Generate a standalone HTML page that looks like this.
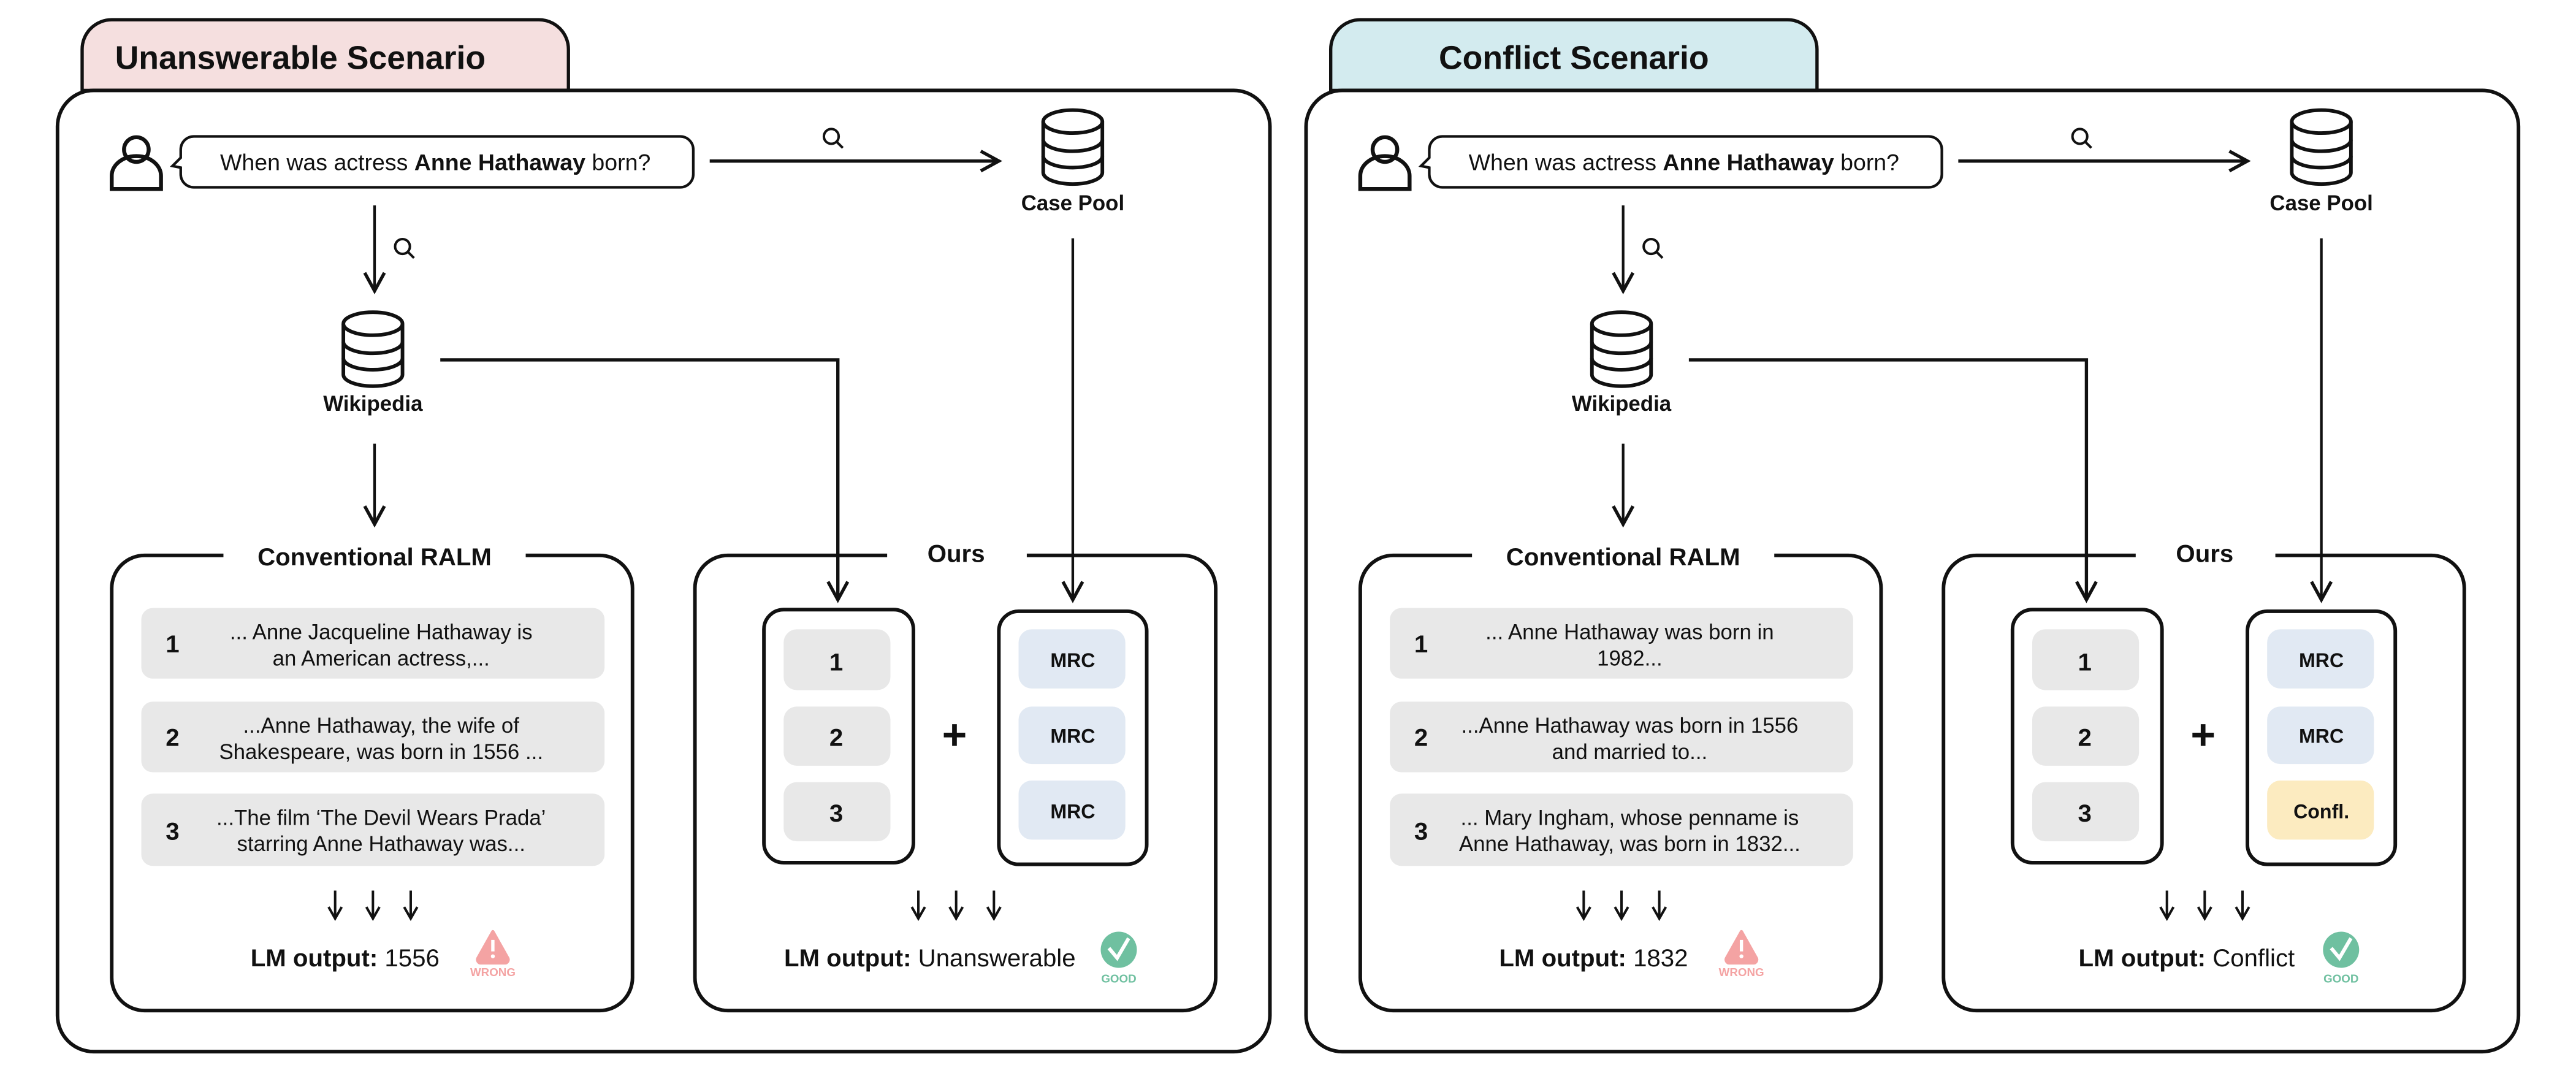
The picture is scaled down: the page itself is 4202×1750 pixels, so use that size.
<!DOCTYPE html>
<html><head><meta charset="utf-8"><style>
html,body{margin:0;padding:0;background:#fff;}
svg{display:block;}
text{font-family:"Liberation Sans",sans-serif;fill:#111;}
.b{font-weight:bold;}
</style></head><body>
<svg width="4202" height="1750" viewBox="0 0 1568 653" xmlns="http://www.w3.org/2000/svg">
<defs>
<g id="db" fill="none" stroke="#111" stroke-width="2.2">
  <ellipse cx="0" cy="-15" rx="18" ry="7"/>
  <path d="M-18,-15 V16 A18,7 0 0 0 18,16 V-15"/>
  <path d="M-18,-4 A18,7 0 0 0 18,-4"/>
  <path d="M-18,6 A18,7 0 0 0 18,6"/>
</g>
<g id="mag" fill="none" stroke="#111" stroke-width="1.5">
  <circle cx="0" cy="0" r="4.5"/><line x1="3.2" y1="3.2" x2="7" y2="7"/>
</g>
<g id="arrowhead" fill="none" stroke="#111" stroke-width="2">
  <path d="M-6,-11 L0,0 L6,-11"/>
</g>
<g id="sarrow" fill="none" stroke="#111" stroke-width="1.5">
  <path d="M0,-9 V8 M-4,1 L0,8 L4,1"/>
</g>
<g id="good">
  <circle cx="0" cy="0" r="11" fill="#6fc0a0"/>
  <path d="M-6,-1 L-1,5 L6,-7" fill="none" stroke="#fff" stroke-width="2.2"/>
  <text x="0" y="20" font-size="7" text-anchor="middle" class="b" style="fill:#6fc0a0">GOOD</text>
</g>
<g id="panelbase">
  <g fill="none" stroke="#111" stroke-width="2.4">
    <circle cx="83" cy="91" r="7.5"/>
    <path d="M68,115 V107 A15,12 0 0 1 98,107 V115 Z"/>
  </g>
  <path d="M118,83 H414 A8,8 0 0 1 422,91 V106 A8,8 0 0 1 414,114 H118 A8,8 0 0 1 110,106 V102 L105,101 L110,96 V91 A8,8 0 0 1 118,83 Z" fill="#fff" stroke="#111" stroke-width="1.6"/>
  <text x="265" y="103.5" font-size="14" text-anchor="middle">When was actress <tspan class="b">Anne Hathaway</tspan> born?</text>
  <line x1="432" y1="98" x2="607" y2="98" stroke="#111" stroke-width="2"/>
  <g transform="translate(608,98) rotate(-90)"><use href="#arrowhead"/></g>
  <use href="#mag" transform="translate(506,83)"/>
  <use href="#db" transform="translate(653,89)"/>
  <text x="653" y="128" font-size="13" text-anchor="middle" class="b">Case Pool</text>
  <line x1="228" y1="125" x2="228" y2="176" stroke="#111" stroke-width="1.6"/>
  <g transform="translate(228,177)"><use href="#arrowhead"/></g>
  <use href="#mag" transform="translate(245,150)"/>
  <use href="#db" transform="translate(227,212)"/>
  <text x="227" y="250" font-size="13" text-anchor="middle" class="b">Wikipedia</text>
  <line x1="228" y1="270" x2="228" y2="318" stroke="#111" stroke-width="1.6"/>
  <g transform="translate(228,319)"><use href="#arrowhead"/></g>
  <polyline points="268,219 510,219 510,364" fill="none" stroke="#111" stroke-width="2"/>
  <g transform="translate(510,365)"><use href="#arrowhead"/></g>
  <line x1="653" y1="145" x2="653" y2="364" stroke="#111" stroke-width="1.6"/>
  <g transform="translate(653,365)"><use href="#arrowhead"/></g>
  <path d="M136,338 H88 A20,20 0 0 0 68,358 V595 A20,20 0 0 0 88,615 H365 A20,20 0 0 0 385,595 V358 A20,20 0 0 0 365,338 H320" fill="none" stroke="#111" stroke-width="2.2"/>
  <text x="228" y="344" font-size="15" text-anchor="middle" class="b">Conventional RALM</text>
  <rect x="86" y="370" width="282" height="43" rx="7" fill="#e8e8e8"/>
  <rect x="86" y="427" width="282" height="43" rx="7" fill="#e8e8e8"/>
  <rect x="86" y="483" width="282" height="44" rx="7" fill="#e8e8e8"/>
  <text x="105" y="397" font-size="15" text-anchor="middle" class="b">1</text>
  <text x="105" y="454" font-size="15" text-anchor="middle" class="b">2</text>
  <text x="105" y="511" font-size="15" text-anchor="middle" class="b">3</text>
  <use href="#sarrow" transform="translate(204,551)"/>
  <use href="#sarrow" transform="translate(227,551)"/>
  <use href="#sarrow" transform="translate(250,551)"/>
  <path d="M300,567 L309,583 A2,2 0 0 1 307,586 H293 A2,2 0 0 1 291,583 Z" fill="#f4a3a3" stroke="#f4a3a3" stroke-width="2" stroke-linejoin="round"/>
  <rect x="299" y="572" width="2" height="7" fill="#fff"/><circle cx="300" cy="582" r="1.2" fill="#fff"/>
  <text x="300" y="594" font-size="7" text-anchor="middle" class="b" style="fill:#f4a3a3">WRONG</text>
  <path d="M540,338 H443 A20,20 0 0 0 423,358 V595 A20,20 0 0 0 443,615 H720 A20,20 0 0 0 740,595 V358 A20,20 0 0 0 720,338 H625" fill="none" stroke="#111" stroke-width="2.2"/>
  <text x="582" y="342" font-size="15" text-anchor="middle" class="b">Ours</text>
  <rect x="465" y="371" width="91" height="154" rx="12" fill="none" stroke="#111" stroke-width="2.2"/>
  <rect x="477" y="383" width="65" height="37" rx="8" fill="#e8e8e8"/>
  <rect x="477" y="430" width="65" height="36" rx="8" fill="#e8e8e8"/>
  <rect x="477" y="476" width="65" height="36" rx="8" fill="#e8e8e8"/>
  <text x="509" y="408" font-size="15" text-anchor="middle" class="b">1</text>
  <text x="509" y="454" font-size="15" text-anchor="middle" class="b">2</text>
  <text x="509" y="500" font-size="15" text-anchor="middle" class="b">3</text>
  <text x="581" y="456" font-size="26" text-anchor="middle" class="b">+</text>
  <rect x="608" y="372" width="90" height="154" rx="12" fill="none" stroke="#111" stroke-width="2.2"/>
  <use href="#sarrow" transform="translate(559,551)"/>
  <use href="#sarrow" transform="translate(582,551)"/>
  <use href="#sarrow" transform="translate(605,551)"/>
</g>
</defs>

<!-- LEFT PANEL -->
<path d="M50,55 V30 A18,18 0 0 1 68,12 H328 A18,18 0 0 1 346,30 V55 Z" fill="#f5dfdf" stroke="#111" stroke-width="2"/>
<text x="70" y="42" font-size="20" class="b">Unanswerable Scenario</text>
<rect x="35" y="55" width="738" height="585" rx="22" fill="none" stroke="#111" stroke-width="2.2"/>
<use href="#panelbase"/>
<text x="232" y="389" font-size="13" text-anchor="middle">... Anne Jacqueline Hathaway is</text>
<text x="232" y="405" font-size="13" text-anchor="middle">an American actress,...</text>
<text x="232" y="446" font-size="13" text-anchor="middle">...Anne Hathaway, the wife of</text>
<text x="232" y="462" font-size="13" text-anchor="middle">Shakespeare, was born in 1556 ...</text>
<text x="232" y="502" font-size="13" text-anchor="middle">...The film ‘The Devil Wears Prada’</text>
<text x="232" y="518" font-size="13" text-anchor="middle">starring Anne Hathaway was...</text>
<text x="210" y="588" font-size="15" text-anchor="middle"><tspan class="b">LM output:</tspan> 1556</text>
<rect x="620" y="383" width="65" height="36" rx="8" fill="#e1e9f3"/>
<rect x="620" y="430" width="65" height="35" rx="8" fill="#e1e9f3"/>
<rect x="620" y="475" width="65" height="36" rx="8" fill="#e1e9f3"/>
<text x="653" y="406" font-size="12" text-anchor="middle" class="b">MRC</text>
<text x="653" y="452" font-size="12" text-anchor="middle" class="b">MRC</text>
<text x="653" y="498" font-size="12" text-anchor="middle" class="b">MRC</text>
<text x="566" y="588" font-size="15" text-anchor="middle"><tspan class="b">LM output:</tspan> Unanswerable</text>
<use href="#good" transform="translate(681,578)"/>

<!-- RIGHT PANEL -->
<g transform="translate(760,0)">
<path d="M50,55 V30 A18,18 0 0 1 68,12 H328 A18,18 0 0 1 346,30 V55 Z" fill="#d3ebef" stroke="#111" stroke-width="2"/>
<text x="198" y="42" font-size="20" class="b" text-anchor="middle">Conflict Scenario</text>
<rect x="35" y="55" width="738" height="585" rx="22" fill="none" stroke="#111" stroke-width="2.2"/>
<use href="#panelbase"/>
<text x="232" y="389" font-size="13" text-anchor="middle">... Anne Hathaway was born in</text>
<text x="232" y="405" font-size="13" text-anchor="middle">1982...</text>
<text x="232" y="446" font-size="13" text-anchor="middle">...Anne Hathaway was born in 1556</text>
<text x="232" y="462" font-size="13" text-anchor="middle">and married to...</text>
<text x="232" y="502" font-size="13" text-anchor="middle">... Mary Ingham, whose penname is</text>
<text x="232" y="518" font-size="13" text-anchor="middle">Anne Hathaway, was born in 1832...</text>
<text x="210" y="588" font-size="15" text-anchor="middle"><tspan class="b">LM output:</tspan> 1832</text>
<rect x="620" y="383" width="65" height="36" rx="8" fill="#e1e9f3"/>
<rect x="620" y="430" width="65" height="35" rx="8" fill="#e1e9f3"/>
<rect x="620" y="475" width="65" height="36" rx="8" fill="#fcebc0"/>
<text x="653" y="406" font-size="12" text-anchor="middle" class="b">MRC</text>
<text x="653" y="452" font-size="12" text-anchor="middle" class="b">MRC</text>
<text x="653" y="498" font-size="12" text-anchor="middle" class="b">Confl.</text>
<text x="571" y="588" font-size="15" text-anchor="middle"><tspan class="b">LM output:</tspan> Conflict</text>
<use href="#good" transform="translate(665,578)"/>
</g>
</svg>
</body></html>
